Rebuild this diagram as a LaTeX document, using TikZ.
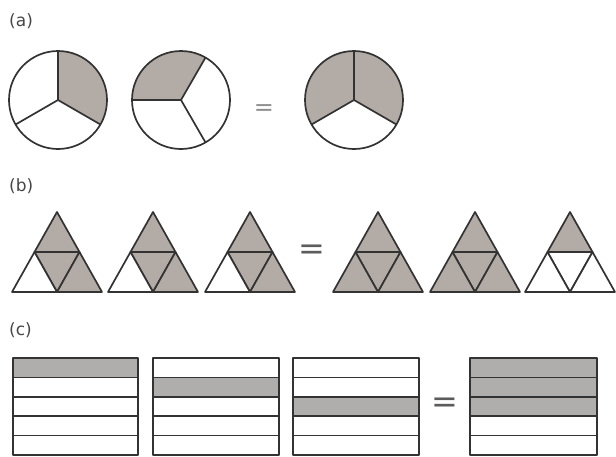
\documentclass[tikz,border=0pt]{standalone}
\usepackage{fontspec}
\setmainfont{DejaVu Sans}
\definecolor{pieshade}{HTML}{B3ACA6}
\definecolor{barshade}{HTML}{B0AEAC}
\definecolor{ink}{HTML}{333333}

\begin{document}
\begin{tikzpicture}[
    x=1pt, y=-1pt,
    line join=round,
    part/.style={draw=ink, line width=1.7pt},
    lbl/.style={anchor=west, inner sep=0pt, text=ink!90, font=\fontsize{17}{17}\selectfont},
    eq/.style={inner sep=0pt, text=ink!80, font=\fontsize{32}{32}\selectfont},
]
\useasboundingbox (0,0) rectangle (616,456);

% (a): thirds of a circle (y points down, so angles turn clockwise)
\node[lbl] (la) at (9,21) {(a)};
\coordinate (c1) at (58,100);
\coordinate (c2) at (181,100);
\coordinate (c3) at (354,100);
\fill[pieshade] (c1) -- ++(-90:49) arc (-90:30:49) -- cycle;
\fill[pieshade] (c2) -- ++(-60:49) arc (-60:-180:49) -- cycle;
\fill[pieshade] (c3) -- ++(30:49) arc (30:-210:49) -- cycle;
\foreach \c/\a in {c1/-90, c1/150, c1/30, c2/-60, c2/180, c2/60, c3/-90, c3/150, c3/30}
    \draw[part] (\c) -- ++(\a:49);
\foreach \c in {c1, c2, c3}
    \draw[part] (\c) circle (49);
\node[eq, text=ink!55, font=\fontsize{24}{24}\selectfont] (eqa) at (264,110) {=};

% (b): quarters of a triangle
\node[lbl] (lb) at (9,186) {(b)};
\foreach \x/\l/\t/\m/\r in {12/white/pieshade/pieshade/pieshade,
                            108/white/pieshade/pieshade/pieshade,
                            205/white/pieshade/pieshade/pieshade,
                            333/pieshade/pieshade/pieshade/pieshade,
                            430/pieshade/pieshade/pieshade/pieshade,
                            525/white/pieshade/white/white} {
    \begin{scope}[xshift=\x]
    \filldraw[part, fill=\t] (22.5,252) -- (45,212) -- (67.5,252) -- cycle;
    \filldraw[part, fill=\m] (22.5,252) -- (67.5,252) -- (45,292) -- cycle;
    \filldraw[part, fill=\l] (0,292) -- (22.5,252) -- (45,292) -- cycle;
    \filldraw[part, fill=\r] (45,292) -- (67.5,252) -- (90,292) -- cycle;
    \end{scope}
}
\node[eq] (eqb) at (312,252) {=};

% (c): fifths of a rectangle
\node[lbl] (lc) at (9,330) {(c)};
\foreach \x/\w/\rows in {13/125/{1}, 153/126/{2}, 293/126/{3}, 470/127/{1,2,3}} {
    \foreach \k in \rows
        \fill[barshade] (\x,{358+(\k-1)*19.4}) rectangle ++(\w,19.4);
    \foreach \k in {1,...,4}
        \draw[part] (\x,{358+\k*19.4}) -- ++(\w,0);
    \draw[part] (\x,358) rectangle ++(\w,97);
}
\node[eq] (eqc) at (445,405) {=};

\end{tikzpicture}
\end{document}
